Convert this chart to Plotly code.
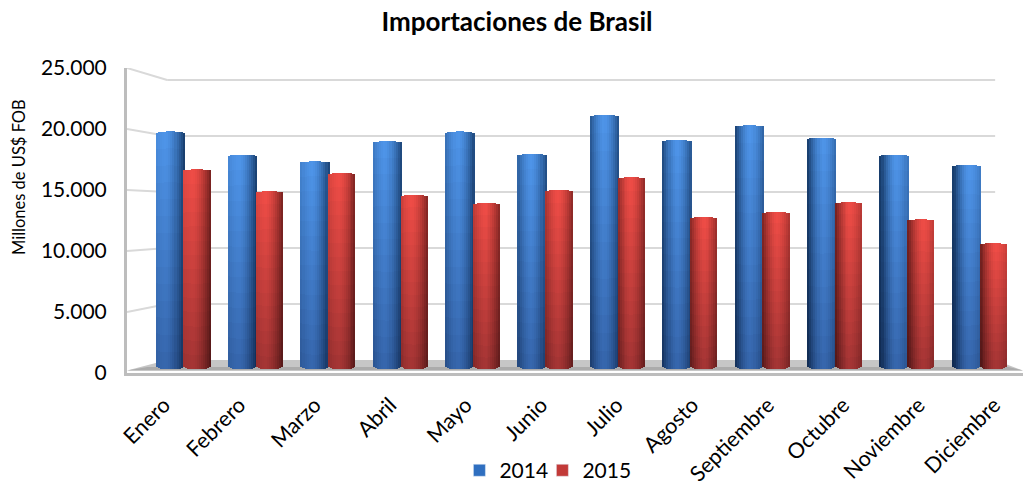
import plotly.graph_objects as go

meses = ["Enero", "Febrero", "Marzo", "Abril", "Mayo", "Junio", "Julio", "Agosto",
         "Septiembre", "Octubre", "Noviembre", "Diciembre"]
v2014 = [19800, 17900, 17350, 19000, 19800, 17950, 21150, 19100, 20300, 19300, 17900, 17050]
v2015 = [16700, 14900, 16400, 14600, 13950, 15000, 16050, 12800, 13200, 14000, 12600, 10650]
ticks_y = [0, 5000, 10000, 15000, 20000, 25000]

FONT = "Lato, Carlito, Calibri, sans-serif"
X_LEFT, X_RIGHT = -0.78, 11.6
X_BACK_L, X_BACK_R = -0.225, 11.215
N_STRIPS = 14
N_LAYERS = 14
BOTTOM_C, BOTTOM_E = 290, 620   # curved foot of the cylinders
TOP_DROP = 150                  # curved top of the cylinders


def mix(a, b, t):
    return tuple(a[i] + (b[i] - a[i]) * t for i in range(3))


def rgb(c):
    return "rgb(%d,%d,%d)" % tuple(round(x) for x in c)


def cylinder(values, x_from, width, hi, edge, shade):
    traces = []
    n = len(values)
    for s in range(N_STRIPS):
        u = -1 + (2 * s + 1) / N_STRIPS
        arc = (1 - u * u) ** 0.5
        off = x_from + width * s / N_STRIPS
        w = width / N_STRIPS * 1.06
        for k in range(N_LAYERS):
            frac = 1 - k / N_LAYERS
            base = [BOTTOM_E + (BOTTOM_C - BOTTOM_E) * arc] * n
            top = [(v - TOP_DROP * (1 - arc)) for v in values]
            heights = [(top[i] - base[i]) * frac for i in range(n)]
            cols = []
            for m in range(n):
                h = -0.3 + 0.5 * m / 11
                dist = min(abs(u - h) / (1 + abs(h)), 1) ** 1.6
                left_dark = 0.25 + 0.75 * m / 11 if u < h else 0.85 - 0.35 * m / 11
                c = mix(hi, edge, dist * left_dark / 0.8 if dist * left_dark < 0.8 else 1)
                vshade = (k / max(N_LAYERS - 1, 1)) * shade
                cols.append(rgb(mix(c, (c[0] * .66, c[1] * .66, c[2] * .72), vshade)))
            traces.append(go.Bar(x=list(range(n)), y=heights, base=base, width=w, offset=off,
                                 marker=dict(color=cols, line=dict(width=0)),
                                 showlegend=False, hoverinfo="skip"))
    return traces


fig = go.Figure()
for t in cylinder(v2014, -0.385, 0.405, (78, 148, 232), (24, 62, 110), 0.9):
    fig.add_trace(t)
for t in cylinder(v2015, 0.0, 0.375, (238, 76, 70), (120, 34, 32), 0.9):
    fig.add_trace(t)

fig.add_trace(go.Bar(x=[0], y=[None], name="2014", marker_color="#2f6fc0", legend="legend"))
fig.add_trace(go.Bar(x=[0], y=[None], name="2015", marker_color="#c23a38", legend="legend2"))

GRID = "#d9d9d9"
BACK0 = 1066
BACK_SLOPE = 0.918
shapes = []
for v in ticks_y[1:]:
    back = BACK0 + v * BACK_SLOPE
    shapes.append(dict(type="line", layer="below", xref="x", yref="y", x0=X_LEFT, y0=v,
                       x1=X_BACK_L, y1=back, line=dict(color=GRID, width=2)))
    shapes.append(dict(type="line", layer="below", xref="x", yref="y", x0=X_BACK_L, y0=back,
                       x1=X_BACK_R, y1=back, line=dict(color=GRID, width=2)))
shapes.append(dict(type="path", layer="below", xref="x", yref="y", line=dict(width=0),
                   fillcolor="#c6c6c6",
                   path=f"M {X_LEFT},200 L {X_BACK_L},1066 L {X_BACK_R},1066 L {X_RIGHT},200 Z"))
shapes.append(dict(type="path", layer="below", xref="x", yref="y", line=dict(width=0),
                   fillcolor="#ababab",
                   path=f"M {X_LEFT},200 L -0.5,500 L 11.4,500 L {X_RIGHT},200 Z"))

leg = dict(orientation="h", xanchor="left", y=-0.32, yanchor="middle",
           font=dict(size=21), bgcolor="rgba(0,0,0,0)")

fig.update_layout(
    width=1023, height=481,
    margin=dict(l=127, r=0, t=68, b=108, autoexpand=False),
    barmode="overlay",
    bargap=0,
    separators=",.",
    paper_bgcolor="white", plot_bgcolor="white",
    font=dict(family=FONT, color="black", size=20),
    title=dict(text="<b>Importaciones de Brasil</b>", x=517 / 1023, xanchor="center",
               y=1 - 22 / 481, yanchor="middle", font=dict(size=26, family=FONT)),
    shapes=shapes,
    legend=dict(x=0.371, **leg),
    legend2=dict(x=0.4636, **leg),
    annotations=[dict(text="Millones de US$ FOB", textangle=-90, xref="paper", yref="paper",
                      x=-108 / 896, y=(373 - 177) / 305, xanchor="center", yanchor="middle",
                      showarrow=False, font=dict(size=16.5))],
    xaxis=dict(range=[X_LEFT, X_RIGHT], tickmode="array", automargin=False,
               tickvals=[i * 1.043 - 0.27 for i in range(12)], ticktext=meses, tickangle=-45,
               ticks="", showgrid=False, zeroline=False, showline=True, ticklabelstandoff=8,
               linecolor="#bdbdbd", linewidth=3, tickfont=dict(size=21.5)),
    yaxis=dict(range=[0, 25000], tickmode="array", tickvals=ticks_y, tickformat=",d",
               automargin=False,
               ticks="", showgrid=False, zeroline=False, showline=True, ticklabelstandoff=13,
               linecolor="#bdbdbd", linewidth=3, tickfont=dict(size=21)),
)
fig.write_html("out.html", config=dict(displayModeBar=False),
               post_script="document.body.style.margin='0';")
